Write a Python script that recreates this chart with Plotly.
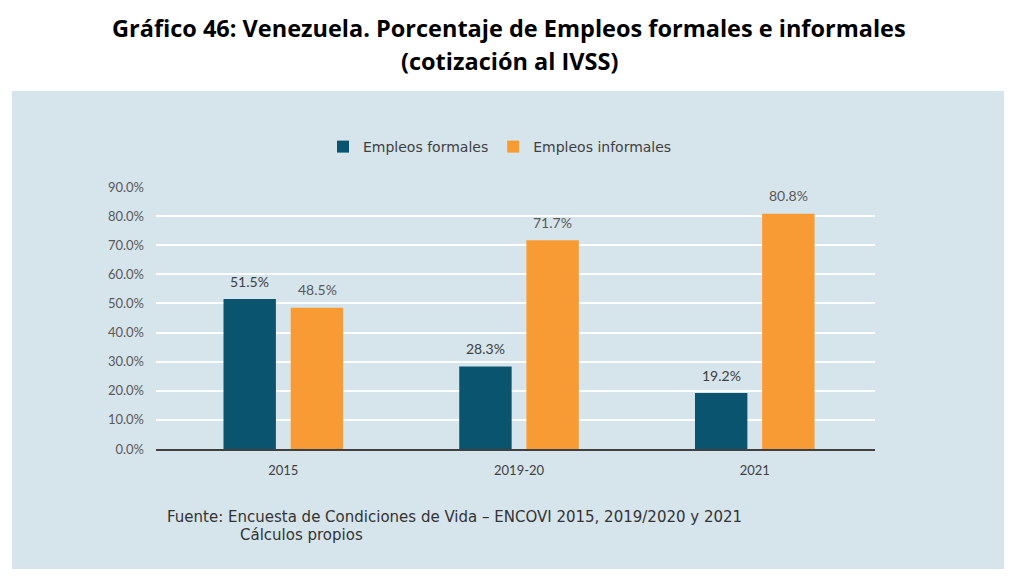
import plotly.graph_objects as go

# Datos del gráfico
periodos = ["2015", "2019-20", "2021"]
formales = [51.5, 28.3, 19.2]
informales = [48.5, 71.7, 80.8]
y_ticks = [0, 10, 20, 30, 40, 50, 60, 70, 80, 90]

W, H = 1016, 585
FONT = "Lato"
WIDE = "DejaVu Sans"
PANEL = "#d6e4ec"

# área de trazado medida en la imagen (la página añade 8px de margen)
X0, X1, Y0, Y1 = 156, 875, 187, 449


def px(x):
    return (x - X0) / (X1 - X0)


def py(y):
    return (Y1 - y) / (Y1 - Y0)


fig = go.Figure()

fig.add_trace(go.Bar(
    x=periodos,
    y=formales,
    name="Empleos formales",
    marker=dict(color="#0b5470", line=dict(width=0)),
))
fig.add_trace(go.Bar(
    x=periodos,
    y=informales,
    name="Empleos informales",
    marker=dict(color="#f99b35", line=dict(width=0)),
))

# etiquetas de datos (x por índice de categoría)
for serie, shift, color in [(formales, -33.75, "#404040"), (informales, 33.75, "#595959")]:
    for i, v in enumerate(serie):
        fig.add_annotation(x=i, y=v, text=f"{v:.1f}%", showarrow=False,
                           xshift=shift, yshift=18, yanchor="middle",
                           font=dict(family=FONT, size=14, color=color))

# panel de fondo
fig.add_shape(type="rect", xref="paper", yref="paper",
              x0=px(12), x1=px(1004), y0=py(569), y1=py(91),
              fillcolor=PANEL, line=dict(width=0), layer="below")

# títulos
for txt, y in [("<b>Gráfico 46: Venezuela. Porcentaje de Empleos formales e informales</b>", 28),
               ("<b>(cotización al IVSS)</b>", 61)]:
    fig.add_annotation(text=txt, xref="paper", yref="paper", x=px(509), y=py(y),
                       showarrow=False, font=dict(family="Open Sans", size=23.5, color="#000000"),
                       xanchor="center", yanchor="middle")

# fuente
fig.add_annotation(text="Fuente: Encuesta de Condiciones de Vida – ENCOVI 2015, 2019/2020 y 2021",
                   xref="paper", yref="paper", x=px(165), y=py(517),
                   showarrow=False, font=dict(family=WIDE, size=15, color="#333333"),
                   xanchor="left", yanchor="middle")
fig.add_annotation(text="Cálculos propios",
                   xref="paper", yref="paper", x=px(238), y=py(535),
                   showarrow=False, font=dict(family=WIDE, size=15, color="#333333"),
                   xanchor="left", yanchor="middle")

fig.update_layout(
    width=W, height=H,
    margin=dict(l=X0 - 8, r=W - X1 + 8, t=Y0 - 8, b=H - Y1 + 8, pad=0),
    paper_bgcolor="white",
    plot_bgcolor=PANEL,
    barmode="group",
    bargap=0.43,
    bargroupgap=0.22,
    showlegend=True,
    legend=dict(orientation="h", x=px(500), y=py(147),
                xanchor="center", yanchor="middle",
                font=dict(family=WIDE, size=14, color="#404040"),
                bgcolor="rgba(0,0,0,0)", traceorder="normal"),
    font=dict(family=FONT),
)

fig.update_xaxes(
    type="category",
    range=[-0.54, 2.51],
    showgrid=False,
    showline=True, linecolor="#404040", linewidth=1.5,
    ticks="", tickfont=dict(family=FONT, size=13, color="#404040"),
    ticklabelstandoff=9,
)
fig.update_yaxes(
    range=[0, 90],
    tickvals=y_ticks,
    ticktext=[f"{v:.1f}%" for v in y_ticks],
    showgrid=True, gridcolor="white", gridwidth=2,
    zeroline=False, showline=False,
    tickfont=dict(family=FONT, size=13, color="#595959"),
    ticklabelstandoff=11,
)

fig.write_html("out.html")
